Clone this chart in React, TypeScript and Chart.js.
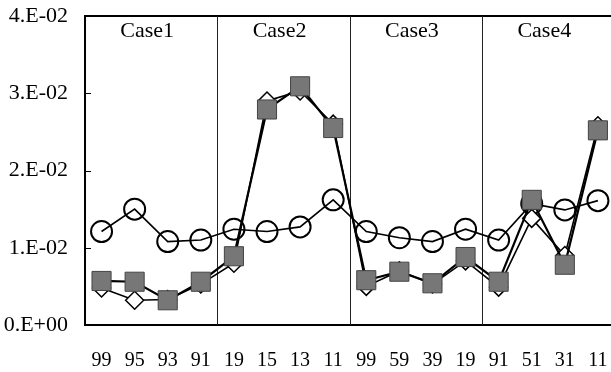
import { useEffect, useRef } from "react";
import { Chart, registerables } from "chart.js";

Chart.register(...registerables);

const categories = ["99", "95", "93", "91", "19", "15", "13", "11", "99", "59", "39", "19", "91", "51", "31", "11"];
const caseLabels = ["Case1", "Case2", "Case3", "Case4"];
const yTickLabels = ["0.E+00", "1.E-02", "2.E-02", "3.E-02", "4.E-02"];

const squareSeries = [0.0057, 0.0056, 0.0032, 0.0056, 0.0089, 0.0279, 0.0309, 0.0255, 0.0058, 0.0069, 0.0054, 0.0088, 0.0056, 0.0162, 0.0078, 0.0252];
const diamondSeries = [0.0048, 0.0032, 0.0033, 0.0053, 0.0080, 0.0290, 0.0303, 0.0260, 0.0050, 0.0070, 0.0053, 0.0083, 0.0049, 0.0138, 0.0090, 0.0258];
const circleSeries = [0.0121, 0.0150, 0.0108, 0.0110, 0.0124, 0.0121, 0.0127, 0.0162, 0.0121, 0.0113, 0.0108, 0.0124, 0.0110, 0.0157, 0.0149, 0.0161];

const FONT = "'Liberation Serif', 'Times New Roman', serif";

const framePlugin = {
  id: "frame",
  beforeDatasetsDraw(chart: any) {
    const { ctx, chartArea, scales } = chart;
    const { left, right, top, bottom } = chartArea;
    const x = scales.x;
    const y = scales.y;
    const groupSize = categories.length / caseLabels.length;
    ctx.save();
    ctx.strokeStyle = "#000";
    // top border
    ctx.lineWidth = 2;
    ctx.beginPath();
    ctx.moveTo(left, top);
    ctx.lineTo(right, top);
    ctx.stroke();
    // separators
    ctx.lineWidth = 1;
    ctx.strokeStyle = "#222";
    for (let g = 1; g < caseLabels.length; g++) {
      const i = g * groupSize;
      const px = Math.round((x.getPixelForValue(i - 1) + x.getPixelForValue(i)) / 2) + 0.5;
      ctx.beginPath();
      ctx.moveTo(px, top);
      ctx.lineTo(px, bottom);
      ctx.stroke();
    }
    // inward y ticks
    ctx.strokeStyle = "#000";
    ctx.lineWidth = 1;
    y.ticks.forEach((t: any) => {
      const py = Math.round(y.getPixelForValue(t.value)) + 0.5;
      if (py <= top + 2 || py >= bottom - 2) return;
      ctx.beginPath();
      ctx.moveTo(left, py);
      ctx.lineTo(left + 6, py);
      ctx.stroke();
    });
    // case labels
    ctx.fillStyle = "#000";
    ctx.font = `22px ${FONT}`;
    ctx.textAlign = "center";
    ctx.textBaseline = "middle";
    caseLabels.forEach((lab, g) => {
      const a = x.getPixelForValue(g * groupSize);
      const b = x.getPixelForValue(g * groupSize + groupSize - 1);
      ctx.fillText(lab, (a + b) / 2 - 4, top + 15);
    });
    ctx.restore();
  },
};

export default function App() {
  const ref = useRef<HTMLCanvasElement>(null);
  useEffect(() => {
    if (!ref.current) return;
    const chart = new Chart(ref.current, {
      type: "line",
      data: {
        labels: categories,
        datasets: [
          {
            label: "square",
            data: squareSeries,
            borderColor: "#000",
            borderWidth: 2.2,
            pointStyle: "rect",
            pointRadius: 13.5,
            pointBackgroundColor: "#777",
            pointBorderColor: "#444",
            pointBorderWidth: 1,
            tension: 0,
          },
          {
            label: "diamond",
            data: diamondSeries,
            borderColor: "#000",
            borderWidth: 1.6,
            pointStyle: "rectRot",
            pointRadius: 9,
            pointBackgroundColor: "#fff",
            pointBorderColor: "#000",
            pointBorderWidth: 1.5,
            tension: 0,
          },
          {
            label: "circle",
            data: circleSeries,
            borderColor: "#000",
            borderWidth: 1.6,
            pointStyle: "circle",
            pointRadius: 10.5,
            pointBackgroundColor: "rgba(255,255,255,0)",
            pointBorderColor: "#000",
            pointBorderWidth: 2,
            tension: 0,
          },
        ],
      },
      options: {
        animation: false,
        responsive: false,
        devicePixelRatio: 1,
        layout: { padding: { top: 16, left: 0, right: 0, bottom: 0 } },
        plugins: { legend: { display: false }, tooltip: { enabled: false } },
        scales: {
          x: {
            offset: true,
            grid: { display: false, drawTicks: false },
            border: { display: true, color: "#000", width: 2 },
            ticks: {
              color: "#000",
              font: { family: FONT, size: 20 },
              padding: 24,
              maxRotation: 0,
              autoSkip: false,
            },
            afterFit: (scale: any) => {
              scale.height = 47;
            },
          },
          y: {
            min: 0,
            max: 0.04,
            grid: { display: false, drawTicks: false },
            border: { display: true, color: "#000", width: 2 },
            ticks: {
              stepSize: 0.01,
              color: "#000",
              font: { family: FONT, size: 22 },
              padding: 17,
              callback: (_v: any, i: number) => yTickLabels[i],
            },
            afterFit: (scale: any) => {
              scale.width = 85;
              scale.paddingTop = 0;
              scale.paddingBottom = 0;
            },
          },
        },
      },
      plugins: [framePlugin],
    });
    return () => chart.destroy();
  }, []);
  return (
    <div style={{ position: "absolute", left: 0, top: 0, width: 611, height: 372, overflow: "hidden", background: "#fff" }}>
      <canvas ref={ref} width={632} height={372} style={{ display: "block", width: 632, height: 372 }} />
    </div>
  );
}
